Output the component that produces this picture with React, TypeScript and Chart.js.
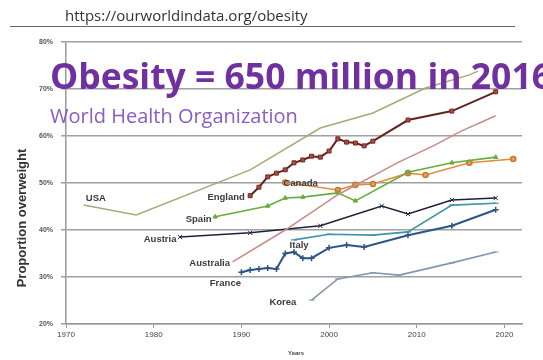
import React, { useEffect, useRef } from "react";
import { Chart, registerables } from "chart.js";

Chart.register(...registerables);

// ---- data ----
const xTickYears = [1970, 1980, 1990, 2000, 2010, 2020];
const yTickValues = [20, 30, 40, 50, 60, 70, 80];

const usaYears = [1972, 1978, 1991, 1999, 2005, 2011, 2016, 2017];
const usaValues = [45.3, 43.2, 52.8, 61.7, 64.9, 70.2, 73.0, 73.8];

const englandYears = [1991, 1992, 1993, 1994, 1995, 1996, 1997, 1998, 1999, 2000, 2001, 2002, 2003, 2004, 2005, 2009, 2014, 2019];
const englandValues = [47.3, 49.1, 51.3, 52.1, 52.8, 54.3, 54.9, 55.7, 55.5, 56.8, 59.4, 58.7, 58.5, 57.9, 58.9, 63.4, 65.3, 69.4];

const canadaYears = [1995, 2001, 2003, 2005, 2009, 2011, 2016, 2021];
const canadaValues = [50.1, 48.5, 49.6, 49.8, 52.1, 51.7, 54.3, 55.1];

const spainYears = [1987, 1993, 1995, 1997, 2001, 2003, 2009, 2014, 2019];
const spainValues = [42.8, 45.1, 46.8, 47.0, 47.9, 46.2, 52.3, 54.3, 55.5];

const austriaYears = [1983, 1991, 1999, 2006, 2009, 2014, 2019];
const austriaValues = [38.5, 39.4, 40.9, 45.1, 43.4, 46.4, 46.8];

const italyYears = [1996, 2000, 2005, 2009, 2014, 2019];
const italyValues = [37.9, 39.1, 38.9, 39.6, 45.3, 45.7];

const franceYears = [1990, 1991, 1992, 1993, 1994, 1995, 1996, 1997, 1998, 2000, 2002, 2004, 2009, 2014, 2019];
const franceValues = [31.0, 31.5, 31.7, 31.9, 31.7, 35.0, 35.3, 34.0, 34.0, 36.2, 36.8, 36.4, 38.9, 40.9, 44.3];

const australiaYears = [1989, 1995, 2001, 2008, 2012, 2015, 2019];
const australiaValues = [33.2, 40.0, 47.5, 54.5, 58.0, 61.0, 64.3];

const koreaYears = [1998, 2001, 2005, 2008, 2014, 2019];
const koreaValues = [25.1, 29.6, 30.9, 30.4, 33.0, 35.3];

const countryNames = ["USA", "England", "Canada", "Spain", "Austria", "Italy", "France", "Australia", "Korea"];

// label anchors (data units) and alignment
const countryLabels = [
  { text: "USA", year: 1973.4, value: 46.8, align: "center" },
  { text: "England", year: 1990.4, value: 47.0, align: "right" },
  { text: "Canada", year: 1994.8, value: 50.0, align: "left" },
  { text: "Spain", year: 1986.6, value: 42.3, align: "right" },
  { text: "Austria", year: 1982.6, value: 37.9, align: "right" },
  { text: "Australia", year: 1988.7, value: 33.0, align: "right" },
  { text: "France", year: 1986.4, value: 28.7, align: "left" },
  { text: "Italy", year: 1995.5, value: 36.8, align: "left" },
  { text: "Korea", year: 1993.2, value: 24.7, align: "left" },
];

const headerText = "https://ourworldindata.org/obesity";
const titleText = "Obesity = 650 million in 2016";
const subtitleText = "World Health Organization";
const yTitle = "Proportion overweight";
const xTitle = "Years";

const toPoints = (xs: number[], ys: number[]) => xs.map((x, i) => ({ x, y: ys[i] }));

const overlayPlugin = {
  id: "overlay",
  afterDraw(chart: any) {
    const ctx = chart.ctx;
    const xs = chart.scales.x;
    const ys = chart.scales.y;
    ctx.save();
    // country labels
    ctx.font = "bold 9.5px 'Liberation Sans', Arial, sans-serif";
    ctx.fillStyle = "#3a3a3a";
    ctx.textBaseline = "middle";
    countryLabels.forEach((l) => {
      ctx.textAlign = l.align;
      ctx.fillText(l.text, xs.getPixelForValue(l.year), ys.getPixelForValue(l.value));
    });
    // y title
    ctx.save();
    ctx.translate(22, 218);
    ctx.rotate(-Math.PI / 2);
    ctx.textAlign = "center";
    ctx.textBaseline = "middle";
    ctx.font = "bold 13px 'Liberation Sans', Arial, sans-serif";
    ctx.fillStyle = "#333";
    ctx.fillText(yTitle, 0, 0);
    ctx.restore();
    // x title
    ctx.textAlign = "center";
    ctx.font = "bold 6px 'Liberation Sans', Arial, sans-serif";
    ctx.fillStyle = "#444";
    ctx.fillText(xTitle, 296, 353);
    // header
    ctx.textAlign = "left";
    ctx.textBaseline = "alphabetic";
    ctx.font = "15px 'Open Sans', sans-serif";
    ctx.fillStyle = "#333";
    ctx.fillText(headerText, 65, 21, 248);
    ctx.strokeStyle = "#666";
    ctx.lineWidth = 1;
    ctx.beginPath();
    ctx.moveTo(10, 26.5);
    ctx.lineTo(515, 26.5);
    ctx.stroke();
    // title
    ctx.font = "bold 36px 'Open Sans', sans-serif";
    ctx.fillStyle = "#7030a0";
    ctx.fillText(titleText, 50, 89, 502);
    ctx.font = "20px 'Open Sans', sans-serif";
    ctx.fillStyle = "#8a5cc4";
    ctx.fillText(subtitleText, 50, 123, 252);
    ctx.restore();
  },
};

export default function App() {
  const ref = useRef<HTMLCanvasElement | null>(null);
  useEffect(() => {
    if (!ref.current) return;
    const mk = (i: number, xs: number[], ys: number[], color: string, extra: any = {}) => ({
      label: countryNames[i],
      data: toPoints(xs, ys),
      borderColor: color,
      backgroundColor: color,
      borderWidth: 1.6,
      pointRadius: 0,
      tension: 0,
      ...extra,
    });
    const chart = new Chart(ref.current, {
      type: "line",
      data: {
        datasets: [
          mk(0, usaYears, usaValues, "#a4aa78", { borderWidth: 1.5 }),
          mk(7, australiaYears, australiaValues, "#c98a86", { borderWidth: 1.5 }),
          mk(8, koreaYears, koreaValues, "#8097b0", { pointStyle: "line", pointRadius: 3, pointBorderWidth: 1 }),
          mk(4, austriaYears, austriaValues, "#1e2238", { pointStyle: "crossRot", pointRadius: 3, pointBorderWidth: 1 }),
          mk(5, italyYears, italyValues, "#3d95a8", { pointStyle: "line", pointRadius: 3, pointBorderWidth: 1.2 }),
          mk(6, franceYears, franceValues, "#2d5486", { pointStyle: "cross", pointRadius: 3, pointBorderWidth: 1.5, borderWidth: 2 }),
          mk(3, spainYears, spainValues, "#6aab3f", { pointStyle: "triangle", pointRadius: 2.5, pointBorderWidth: 1 }),
          mk(2, canadaYears, canadaValues, "#e38c3c", { pointStyle: "circle", pointRadius: 2.5, pointBackgroundColor: "#eba060", pointBorderColor: "#c87a35" }),
          mk(1, englandYears, englandValues, "#5e2520", { pointStyle: "rect", pointRadius: 2.8, pointBackgroundColor: "#b5473f", pointBorderColor: "#6b2a25", pointBorderWidth: 1, borderWidth: 2 }),
        ],
      },
      options: {
        animation: false,
        responsive: false,
        devicePixelRatio: 1,
        layout: { padding: { left: 0, right: 21, top: 42, bottom: 0 } },
        plugins: { legend: { display: false }, tooltip: { enabled: false }, title: { display: false } },
        scales: {
          x: {
            type: "linear",
            min: 1970,
            max: 2022,
            afterBuildTicks: (s: any) => { s.ticks = xTickYears.map((v) => ({ value: v })); },
            afterFit: (s: any) => { s.height = 36; },
            grid: { display: true, drawOnChartArea: false, drawTicks: true, tickLength: 4, color: "#999" },
            border: { display: true, color: "#999", width: 1.5 },
            ticks: {
              color: "#444",
              font: { size: 8, family: "'Liberation Sans', Arial, sans-serif" },
              padding: 2,
              maxRotation: 0,
              callback: (v: any) => String(v),
            },
          },
          y: {
            min: 20,
            max: 80,
            afterBuildTicks: (s: any) => { s.ticks = yTickValues.map((v) => ({ value: v })); },
            afterFit: (s: any) => { s.width = 66; },
            grid: { color: "#a0a0a0", lineWidth: 1.5, tickLength: 5 },
            border: { display: true, color: "#999", width: 1.5 },
            ticks: {
              color: "#555",
              font: { size: 7, weight: "bold", family: "'Liberation Sans', Arial, sans-serif" },
              padding: 8,
              callback: (v: any) => v + "%",
            },
          },
        },
      },
      plugins: [overlayPlugin],
    } as any);
    return () => chart.destroy();
  }, []);
  return (
    <div style={{ position: "fixed", left: 0, top: 0, width: 543, height: 360, background: "#fff" }}>
      <canvas ref={ref} width={543} height={360} style={{ width: 543, height: 360 }} />
    </div>
  );
}
